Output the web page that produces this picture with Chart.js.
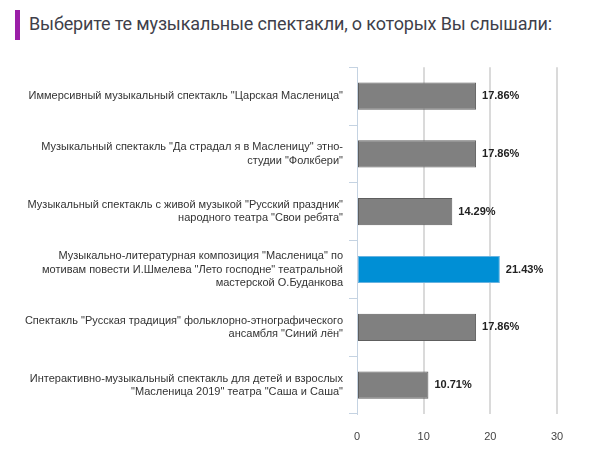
<!DOCTYPE html>
<html>
<head>
<meta charset="utf-8">
<script src="https://cdn.jsdelivr.net/npm/chart.js@4/dist/chart.umd.min.js"></script>
<style>
  html, body { margin: 0; padding: 0; background: #fff; }
  #wrap { position: relative; width: 596px; height: 463px; overflow: hidden; }
  #bar { position: absolute; left: 15px; top: 10px; width: 5px; height: 30px; background: #9b1fa8; }
  #title { position: absolute; left: 29px; top: 13px; font: 18px Roboto, sans-serif; letter-spacing: -0.15px; color: #3f3f4a; white-space: nowrap; }
  #box { position: absolute; left: 0; top: 48px; width: 596px; height: 415px; }
</style>
</head>
<body>
<div id="wrap">
  <div id="bar"></div>
  <div id="title">Выберите те музыкальные спектакли, о которых Вы слышали:</div>
  <div id="box"><canvas id="chart"></canvas></div>
</div>
<script>
// data
const categories = [
  ["Иммерсивный музыкальный спектакль \"Царская Масленица\""],
  ["Музыкальный спектакль \"Да страдал я в Масленицу\" этно-", "студии \"Фолкбери\""],
  ["Музыкальный спектакль с живой музыкой \"Русский праздник\"", "народного театра \"Свои ребята\""],
  ["Музыкально-литературная композиция \"Масленица\" по", "мотивам повести И.Шмелева \"Лето господне\" театральной", "мастерской О.Буданкова"],
  ["Спектакль \"Русская традиция\" фольклорно-этнографического", "ансамбля \"Синий лён\""],
  ["Интерактивно-музыкальный спектакль для детей и взрослых", "\"Масленица 2019\" театра \"Саша и Саша\""]
];
const values = [17.86, 17.86, 14.29, 21.43, 17.86, 10.71];
const xTicks = [0, 10, 20, 30];
const highlight = 3;

const fills = values.map((v, i) => (i === highlight ? "#008fd5" : "#808080"));
const borders = values.map((v, i) => (i === highlight ? "#68b3e0" : "#5e5e5e"));

// value labels at the end of each bar
const valueLabels = {
  id: "valueLabels",
  afterDatasetsDraw(chart) {
    const ctx = chart.ctx;
    const meta = chart.getDatasetMeta(0);
    ctx.save();
    ctx.font = "bold 11px 'Liberation Sans', Arial, sans-serif";
    ctx.fillStyle = "#222";
    ctx.textAlign = "left";
    ctx.textBaseline = "middle";
    meta.data.forEach((bar, i) => {
      ctx.fillText(values[i].toFixed(2) + "%", bar.x + 6, bar.y);
    });
    ctx.restore();
  },
};

new Chart(document.getElementById("chart"), {
  type: "bar",
  data: {
    labels: categories,
    datasets: [
      {
        data: values,
        backgroundColor: fills,
        borderColor: borders,
        borderWidth: 1,
        borderSkipped: false,
        categoryPercentage: 1,
        barPercentage: 0.47,
      },
    ],
  },
  options: {
    indexAxis: "y",
    responsive: true,
    maintainAspectRatio: false,
    animation: false,
    layout: { padding: { top: 10, right: 39, bottom: 11, left: 0 } },
    plugins: {
      legend: { display: false },
      tooltip: { enabled: false },
    },
    scales: {
      x: {
        min: 0,
        max: 30,
        afterBuildTicks: (scale) => {
          scale.ticks = xTicks.map((v) => ({ value: v }));
        },
        afterFit: (scale) => {
          scale.height = 38;
        },
        border: { display: false },
        grid: {
          drawTicks: false,
          lineWidth: 2,
          color: (c) => (c.tick && c.tick.value === 0 ? "rgba(0,0,0,0)" : "#dadada"),
        },
        ticks: {
          padding: 16,
          color: "#444",
          font: { size: 11, family: "'Liberation Sans', Arial, sans-serif" },
        },
      },
      y: {
        afterFit: (scale) => {
          scale.width = 357;
        },
        border: { color: "#c5d3e2", width: 1 },
        grid: {
          offset: true,
          drawOnChartArea: false,
          color: "#c5d3e2",
          tickLength: 8,
        },
        ticks: {
          padding: 6,
          color: "#333",
          font: { size: 11, family: "'Liberation Sans', Arial, sans-serif", lineHeight: 1.2 },
        },
      },
    },
  },
  plugins: [valueLabels],
});
</script>
</body>
</html>
